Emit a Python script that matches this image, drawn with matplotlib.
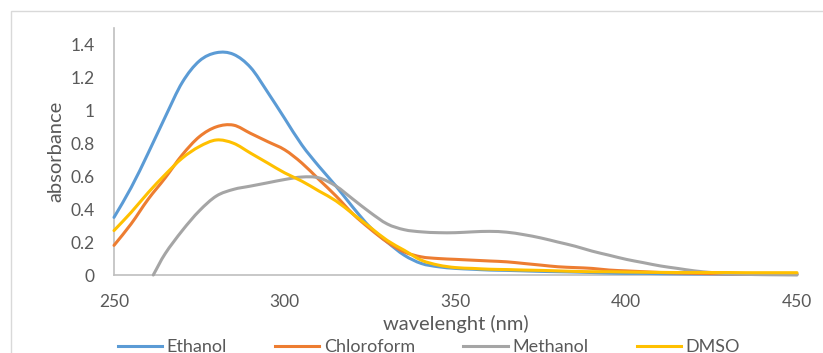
import numpy as np
import matplotlib.pyplot as plt
from matplotlib.patches import Rectangle, PathPatch
from matplotlib.path import Path
from matplotlib.lines import Line2D

plt.rcParams['font.family'] = ['Lato', 'DejaVu Sans']

# wavelength grid (nm)
wl = [250, 255, 260, 265, 270, 275, 280, 285, 290, 295, 300, 305, 310, 315, 320,
      325, 330, 335, 340, 345, 350, 355, 360, 365, 370, 375, 380, 385, 390, 395,
      400, 405, 410, 415, 420, 425, 430, 435, 440, 445, 450]

ethanol = [0.35, 0.53, 0.74, 0.96, 1.17, 1.30, 1.35, 1.34, 1.26, 1.11, 0.95, 0.79,
           0.66, 0.54, 0.41, 0.29, 0.20, 0.12, 0.07, 0.05, 0.04, 0.035, 0.03, 0.028,
           0.025, 0.022, 0.02, 0.018, 0.015, 0.012, 0.01, 0.01, 0.008, 0.007, 0.006,
           0.006, 0.005, 0.005, 0.005, 0.005, 0.005]

chloroform = [0.18, 0.31, 0.46, 0.59, 0.73, 0.84, 0.90, 0.91, 0.86, 0.81, 0.76, 0.68,
              0.58, 0.48, 0.37, 0.28, 0.20, 0.14, 0.11, 0.10, 0.095, 0.09, 0.085, 0.08,
              0.07, 0.06, 0.05, 0.045, 0.04, 0.03, 0.025, 0.02, 0.015, 0.012, 0.01,
              0.008, 0.007, 0.006, 0.005, 0.005, 0.005]

dmso = [0.27, 0.38, 0.50, 0.61, 0.71, 0.78, 0.82, 0.80, 0.74, 0.68, 0.62, 0.57, 0.51,
        0.45, 0.37, 0.29, 0.21, 0.15, 0.09, 0.06, 0.045, 0.04, 0.035, 0.033, 0.03,
        0.028, 0.025, 0.022, 0.02, 0.02, 0.018, 0.017, 0.016, 0.015, 0.015, 0.015,
        0.015, 0.014, 0.014, 0.014, 0.014]

# methanol trace starts at ~261.5 nm
wl_meoh = [261.5] + wl[3:]
methanol = [0.0, 0.13, 0.27, 0.39, 0.48, 0.52, 0.54, 0.56, 0.58, 0.595, 0.59, 0.54,
            0.46, 0.38, 0.31, 0.275, 0.262, 0.257, 0.257, 0.262, 0.265, 0.26, 0.245,
            0.225, 0.20, 0.175, 0.145, 0.12, 0.095, 0.075, 0.055, 0.04, 0.025, 0.015,
            0.008, 0.004, 0.002, 0.001, 0.0]

x_ticks = [250, 300, 350, 400, 450]
y_ticks = [0, 0.2, 0.4, 0.6, 0.8, 1, 1.2, 1.4]
y_labels = ['0', '0.2', '0.4', '0.6', '0.8', '1', '1.2', '1.4']

series = [('Ethanol', wl, ethanol, '#5B9BD5'),
          ('Chloroform', wl, chloroform, '#ED7D31'),
          ('Methanol', wl_meoh, methanol, '#A5A5A5'),
          ('DMSO', wl, dmso, '#FFC000')]


def smooth_path(x, y):
    # Excel-style smoothed line: cubic Bezier segments through the data points
    pts = np.column_stack([x, y]).astype(float)
    verts = [pts[0]]
    codes = [Path.MOVETO]
    n = len(pts)
    for i in range(n - 1):
        p1, p2 = pts[i], pts[i + 1]
        p0 = pts[i - 1] if i > 0 else 2 * p1 - p2
        p3 = pts[i + 2] if i + 2 < n else 2 * p2 - p1
        verts += [p1 + (p2 - p0) / 6, p2 - (p3 - p1) / 6, p2]
        codes += [Path.CURVE4] * 3
    return Path(verts, codes)


fig = plt.figure(figsize=(8.23, 3.53), dpi=100)
ax = fig.add_axes([114 / 823, 1 - 275 / 353, (797 - 114) / 823, (275 - 28) / 353])

# chart area border
fig.patches.append(Rectangle((11 / 823, -0.5), 2, 0.5 + 1 - 11 / 353,
                             transform=fig.transFigure, fill=False,
                             edgecolor='#D9D9D9', linewidth=1))

lw = 2.2
handles = []
for name, xs, ys, col in series:
    ax.add_patch(PathPatch(smooth_path(xs, ys), fill=False, edgecolor=col, lw=lw,
                           capstyle='round', joinstyle='round', clip_on=False, zorder=3))
    handles.append(Line2D([], [], color=col, lw=lw, label=name))

ax.set_xlim(250, 450)
ax.set_ylim(0, 1.5)
ax.set_xticks(x_ticks)
ax.set_yticks(y_ticks)
ax.set_yticklabels(y_labels)
ax.tick_params(length=0, labelsize=12.5, labelcolor='#595959')
ax.tick_params(axis='x', pad=14)
ax.tick_params(axis='y', pad=14)

for s in ['top', 'right']:
    ax.spines[s].set_visible(False)
for s in ['left', 'bottom']:
    ax.spines[s].set_color('#BFBFBF')
    ax.spines[s].set_linewidth(1.2)
ax.patch.set_alpha(0)

ax.set_xlabel('wavelenght (nm)', fontsize=14.5, color='#595959', labelpad=3)
ax.set_ylabel('absorbance', fontsize=14.5, color='#595959', labelpad=4)

fig.legend(handles=handles, loc='center', bbox_to_anchor=(429 / 823, 1 - 347 / 353),
           ncol=4, frameon=False, fontsize=13, labelcolor='#595959',
           handlelength=2.44, handletextpad=0.28, columnspacing=2.66)

fig.savefig('out.png', dpi=100)
